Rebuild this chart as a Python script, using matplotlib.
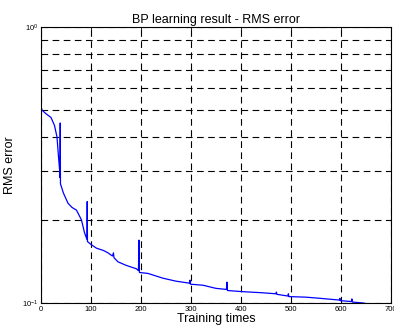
import numpy as np
import matplotlib
matplotlib.use('Agg')
import matplotlib.pyplot as plt
from matplotlib.ticker import LogLocator, NullFormatter

plt.rcParams['font.family'] = ['Liberation Sans', 'DejaVu Sans']

# training epochs and RMS error
epochs = [0, 2, 10, 20, 27, 32, 35, 37.5, 38, 38.5, 39, 45, 54, 62, 71, 81, 87,
          92, 92.5, 93, 100, 111, 125, 134, 143, 145, 146, 154, 170, 191, 195,
          196, 197, 214, 244, 270, 297, 298, 299, 324, 350, 371, 372, 373, 401,
          440, 470, 471, 472, 494, 495, 496, 530, 558, 597, 598, 599, 621, 622,
          623, 645, 650]
rms = [0.515, 0.50, 0.485, 0.47, 0.44, 0.40, 0.34, 0.30, 0.285, 0.449, 0.27,
       0.25, 0.23, 0.222, 0.217, 0.20, 0.18, 0.17, 0.233, 0.167, 0.163, 0.158,
       0.155, 0.152, 0.148, 0.152, 0.146, 0.141, 0.137, 0.133, 0.131, 0.169,
       0.129, 0.128, 0.123, 0.120, 0.118, 0.121, 0.117, 0.116, 0.113, 0.112,
       0.119, 0.111, 0.110, 0.109, 0.108, 0.1095, 0.1075, 0.106, 0.108, 0.1055,
       0.105, 0.104, 0.1025, 0.104, 0.102, 0.1012, 0.1035, 0.1008, 0.100,
       0.0995]
x_ticks = [0, 100, 200, 300, 400, 500, 600, 700]

fig = plt.figure(figsize=(3.94, 3.29), dpi=100)
ax = fig.add_axes([0.104, 0.079, 0.888, 0.839])

ax.semilogy(epochs, rms, color='#0000ff', linewidth=0.9)
ax.set_xlim(0, 700)
ax.set_ylim(0.1, 1.0)
ax.set_xticks(x_ticks)
ax.yaxis.set_major_locator(LogLocator(base=10, numticks=5))
ax.yaxis.set_minor_locator(LogLocator(base=10, subs=np.arange(2, 10), numticks=10))
ax.yaxis.set_minor_formatter(NullFormatter())

ax.grid(True, which='major', axis='x', color='black', linestyle=(0, (6, 4)), linewidth=0.8)
ax.grid(True, which='both', axis='y', color='black', linestyle=(0, (6, 4)), linewidth=0.8)
ax.tick_params(which='both', direction='in', top=True, right=True, labelsize=5.5,
               length=3, width=0.6, pad=2)
ax.tick_params(which='minor', length=2)
for s in ax.spines.values():
    s.set_linewidth(0.8)

ax.set_title('BP learning result - RMS error', fontsize=9, pad=3)
ax.set_xlabel('Training times', fontsize=9, labelpad=0)
ax.set_ylabel('RMS error', fontsize=9, labelpad=4)

plt.savefig('out.png', dpi=100)
